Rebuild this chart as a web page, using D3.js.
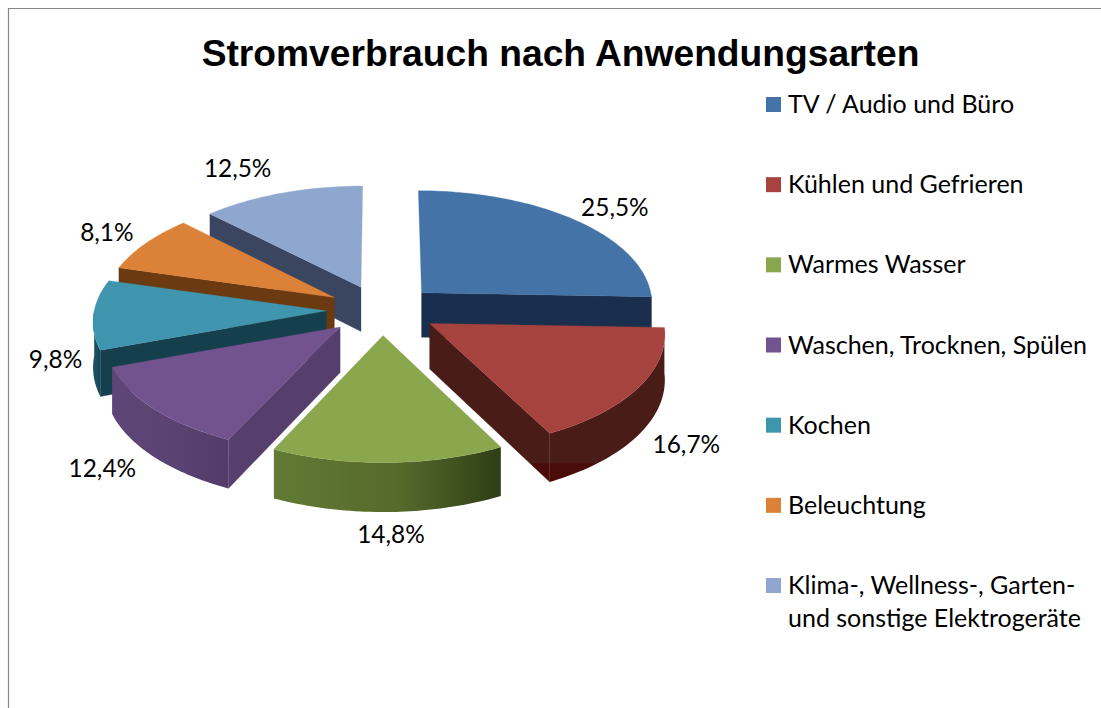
<!DOCTYPE html>
<html><head><meta charset="utf-8">
<script src="https://cdn.jsdelivr.net/npm/d3@7"></script>
<style>html,body{margin:0;padding:0;background:#fff}svg{display:block}</style>
</head><body><div id="c"></div>
<script>
const titleText = "Stromverbrauch nach Anwendungsarten";
const categories = ["TV / Audio und Büro","Kühlen und Gefrieren","Warmes Wasser","Waschen, Trocknen, Spülen","Kochen","Beleuchtung","Klima-, Wellness-, Garten-|und sonstige Elektrogeräte"];
const values = [25.5,16.7,14.8,12.4,9.8,8.1,12.5];
const valueLabels = ["25,5%","16,7%","14,8%","12,4%","9,8%","8,1%","12,5%"];
const topColors = ["#4473a8","#a6433f","#8aa74d","#72538e","#3f95ae","#dc8238","#8fa6cf"];
const wallColors = ["#1a2f4d","#4a1c18","#5f7531","#563f6d","#153f4d","#6b3a10","#3a4560"];
const rimStart = ["#1a2f4d","#4a1c18","#627a33","#5e4678","#1d5668","#6b3a10","#3a4560"];
const rimMid = ["#1a2f4d","#4a1c18","#566a2c","#5a4272","#1a4e5e","#6b3a10","#3a4560"];
const rimEnd = ["#1a2f4d","#451a16","#2e3e15","#533c6a","#164452","#6b3a10","#3a4560"];
const labelNudge = [[40,-12],[48,10],[3,23],[-52,12],[-38,0],[-39,-10],[-44,-24]];

const W=1101,H=708;
const cx=382,cy=310,R=232,tilt=114,depth=45,persp=0.08,explodeX=0.24,explodeY=0.22;
const xS=d3.scaleLinear().domain([0,1]).range([0,R]);
const yS=d3.scaleLinear().domain([0,1]).range([0,tilt]);
const svg=d3.select("#c").append("svg").attr("width",W).attr("height",H);
svg.append("rect").attr("width",W).attr("height",H).attr("fill","#fff");
svg.append("path").attr("d",`M8.5,${H}V8.5H${W}`).attr("fill","none").attr("stroke","#868686").attr("stroke-width",1.2);
svg.append("text").attr("x",560.5).attr("y",66).attr("text-anchor","middle")
  .attr("font-family","Liberation Sans").attr("font-weight","bold").attr("font-size",37.2).attr("fill","#000").text(titleText);

function project(u,v,z){const s=1+persp*v;return [cx+xS(u)*s, cy+(yS(v)+z*depth)*s];}
const pie=d3.pie().value(d=>d).sort(null);
const arcs=pie(values).map((a,i)=>{
  const mid=(a.startAngle+a.endAngle)/2;
  return {i,a0:a.startAngle,a1:a.endAngle,mid,ex:explodeX*Math.sin(mid),ey:-explodeY*Math.cos(mid)};
});
const line=d3.line();
const pt=(s,t,r,z)=>project(s.ex+r*Math.sin(t),s.ey-r*Math.cos(t),z);
const rimPts=(s,a,b,z)=>{const n=Math.max(2,Math.ceil((b-a)/0.02));return d3.range(n+1).map(k=>pt(s,a+(b-a)*k/n,1,z));};
const defs=svg.append("defs");
// the lowest part of the second slice's wall is a darker band
const band=defs.append("linearGradient").attr("id","redBand").attr("gradientUnits","userSpaceOnUse")
  .attr("x1",0).attr("x2",0).attr("y1",300).attr("y2",490);
[[0,"#4a1c18"],[0.858,"#4a1c18"],[0.862,"#4a0c08"],[1,"#4a0c08"]].forEach(d=>band.append("stop").attr("offset",d[0]).attr("stop-color",d[1]));
const order=[...arcs].sort((p,q)=>p.ey-q.ey);
const gPie=svg.append("g");
order.forEach(s=>{
  const g=gPie.append("g");
  const wall=(t)=>{const p=[pt(s,t,0,0),pt(s,t,1,0),pt(s,t,1,1),pt(s,t,0,1)];
    g.append("path").attr("d",line(p)+"Z").attr("fill",s.i===1?"url(#redBand)":wallColors[s.i]).attr("stroke",wallColors[s.i]).attr("stroke-width",0.3);};
  if(s.a0>Math.PI)wall(s.a0);
  if(s.a1<=Math.PI)wall(s.a1);
  const a=Math.max(s.a0,Math.PI/2),b=Math.min(s.a1,1.5*Math.PI);
  if(b>a){
    const top=rimPts(s,a,b,0),bot=rimPts(s,a,b,1).reverse();
    const xs=top.map(d=>d[0]);
    const id="rim"+s.i;
    const gr=defs.append("linearGradient").attr("id",id).attr("gradientUnits","userSpaceOnUse")
      .attr("x1",d3.min(xs)).attr("x2",d3.max(xs)).attr("y1",0).attr("y2",0);
    gr.append("stop").attr("offset",0).attr("stop-color",rimStart[s.i]);
    gr.append("stop").attr("offset",0.55).attr("stop-color",rimMid[s.i]);
    gr.append("stop").attr("offset",1).attr("stop-color",rimEnd[s.i]);
    g.append("path").attr("d",line(top.concat(bot))+"Z").attr("fill",s.i===1?"url(#redBand)":`url(#${id})`);
  }
  const face=[pt(s,s.a0,0,0)].concat(rimPts(s,s.a0,s.a1,0));
  g.append("path").attr("d",line(face)+"Z").attr("fill",topColors[s.i]).attr("stroke",topColors[s.i]).attr("stroke-width",0.3);
});
// value labels
svg.append("g").selectAll("text").data(arcs).join("text")
  .attr("font-family","Lato").attr("font-size",24.4).attr("fill","#000").attr("text-anchor","middle")
  .attr("x",s=>pt(s,s.mid,1,0)[0]+labelNudge[s.i][0])
  .attr("y",s=>pt(s,s.mid,1,s.ey>0?1:0)[1]+labelNudge[s.i][1]+8)
  .text(s=>valueLabels[s.i]);
// legend
const legY=d3.scalePoint().domain(d3.range(categories.length)).range([105,586]);
const leg=svg.append("g").selectAll("g").data(categories).join("g").attr("transform",(d,i)=>`translate(766,${legY(i)})`);
leg.append("rect").attr("x",0).attr("y",-8).attr("width",15).attr("height",15).attr("fill",(d,i)=>topColors[i]);
leg.each(function(d){
  d.split("|").forEach((t,k)=>d3.select(this).append("text").attr("x",22).attr("y",8+k*33)
    .attr("font-family","Lato").attr("font-size",25).attr("fill","#000").text(t));
});
</script></body></html>
